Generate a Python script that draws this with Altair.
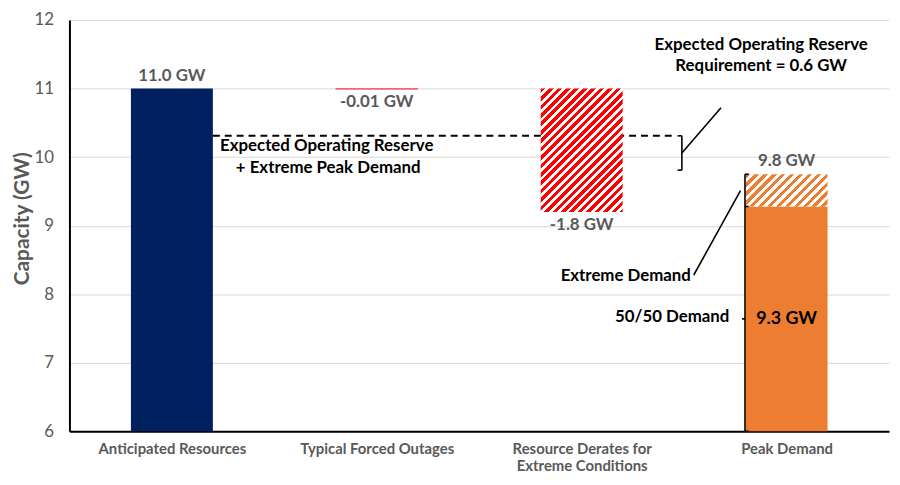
import altair as alt
import pandas as pd

# ---------------- data ----------------
categories = ["Anticipated Resources", "Typical Forced Outages",
              "Resource Derates for|Extreme Conditions", "Peak Demand"]
cat_pos = [0, 1, 2, 3]
bar_start = [6.0, 11.0, 11.0, 6.0]
bar_end = [11.0, 10.99, 9.2, 9.28]
bar_kind = ["navy", "thin", "red_hatch", "orange"]
extreme_start = [9.28]
extreme_end = [9.75]

value_labels_above = ["11.0 GW", "9.8 GW"]
value_above_pos = [0, 3]
value_above_y = [11.0, 9.75]
value_labels_below = ["-0.01 GW", "-1.8 GW"]
value_below_pos = [1, 2]
value_below_y = [10.99, 9.2]

ann_text = ["Expected Operating Reserve", "+ Extreme Peak Demand",
            "Expected Operating Reserve", "Requirement = 0.6 GW",
            "Extreme Demand", "50/50 Demand"]
ann_x = [0.235, 0.312, 2.876, 2.876, 2.533, 2.721]
ann_y = [10.16, 9.84, 11.64, 11.33, 8.26, 7.66]
ann_align = ["left", "left", "center", "center", "right", "right"]

inner_label = ["9.3 GW"]
inner_x = [3.0]
inner_y = [7.64]

dash_x = [0.2]; dash_x2 = [2.45]; dash_y = [10.31]; dash_y2 = [10.31]

seg_x = [2.489, 2.468, 2.468, 2.489, 2.797, 2.797, 2.797, 2.797, 2.782, 2.547]
seg_x2 = [2.489, 2.489, 2.489, 2.680, 2.797, 2.815, 2.815, 2.815, 2.797, 2.775]
seg_y = [10.31, 10.31, 9.81, 10.06, 9.75, 9.75, 9.28, 6.0, 7.64, 8.28]
seg_y2 = [9.81, 10.31, 9.81, 10.72, 6.0, 9.75, 9.28, 6.0, 7.64, 9.51]

# ---------------- layout ----------------
W, H = 827, 415
XMIN, XMAX = -0.5, 3.5
YMIN, YMAX = 6, 12
HALF = 0.2
FONT = "Lato"
GRAY = "#595959"

label_arr = "[" + ",".join("'" + c + "'" for c in categories) + "]"


def X(field, **kw):
    return alt.X(field, type="quantitative",
                 scale=alt.Scale(domain=[XMIN, XMAX], nice=False, zero=False),
                 axis=alt.Axis(values=cat_pos, labelExpr="split(" + label_arr + "[datum.value], '|')",
                               title=None, grid=False, ticks=False, domainColor="black", domainWidth=2,
                               labelFont=FONT, labelFontWeight="bold", labelColor=GRAY, labelFontSize=15,
                               labelPadding=10, labelLineHeight=18), **kw)


def Y(field, **kw):
    return alt.Y(field, type="quantitative",
                 scale=alt.Scale(domain=[YMIN, YMAX], nice=False, zero=False),
                 axis=alt.Axis(values=list(range(6, 13)), title="Capacity (GW)", grid=True,
                               gridColor="#d9d9d9", gridWidth=1, ticks=False, domainColor="black",
                               domainWidth=2, labelFont=FONT, labelFontSize=17, labelColor=GRAY,
                               labelPadding=16, titleFont=FONT, titleFontSize=21, titleFontWeight="bold",
                               titleColor=GRAY, titleAngle=270, titleAlign="center", titleBaseline="middle",
                               titleX=-47, titleY=200), **kw)


def X2(field):
    return alt.X2(field)


def Y2(field):
    return alt.Y2(field)


def hatch(color, w_px, h_px, period, frac):
    total = w_px + h_px
    s = total * w_px / (w_px ** 2 + h_px ** 2)
    n = int(total / period) + 1
    stops = []
    for k in range(n + 1):
        a = min(k * period / total, 1.0)
        b = min((k * period + frac * period) / total, 1.0)
        c = min((k + 1) * period / total, 1.0)
        stops += [{"offset": a, "color": color}, {"offset": b, "color": color},
                  {"offset": b, "color": "white"}, {"offset": c, "color": "white"}]
    return {"gradient": "linear", "x1": 0, "y1": 0, "x2": s, "y2": s * h_px / w_px, "stops": stops}


px_x = W / (XMAX - XMIN)
px_y = H / (YMAX - YMIN)
bar_w_px = 2 * HALF * px_x
red_h_px = (bar_start[2] - bar_end[2]) * px_y
or_h_px = (extreme_end[0] - extreme_start[0]) * px_y

bars = pd.DataFrame({"x0": [p - HALF for p in cat_pos], "x1": [p + HALF for p in cat_pos],
                     "y0": bar_start, "y1": bar_end, "kind": bar_kind})
ext = pd.DataFrame({"x0": [cat_pos[3] - HALF], "x1": [cat_pos[3] + HALF],
                    "y0": extreme_start, "y1": extreme_end})
above = pd.DataFrame({"x": value_above_pos, "y": value_above_y, "t": value_labels_above})
below = pd.DataFrame({"x": value_below_pos, "y": value_below_y, "t": value_labels_below})
ann = pd.DataFrame({"x": ann_x, "y": ann_y, "t": ann_text, "a": ann_align})
inner = pd.DataFrame({"x": inner_x, "y": inner_y, "t": inner_label})
dash = pd.DataFrame({"x": dash_x, "x2": dash_x2, "y": dash_y, "y2": dash_y2})
segs = pd.DataFrame({"x": seg_x, "x2": seg_x2, "y": seg_y, "y2": seg_y2})

dash_layer = alt.Chart(dash).mark_rule(color="black", strokeWidth=2, strokeDash=[7, 5]).encode(
    x=X("x"), x2=X2("x2"), y=Y("y"), y2=Y2("y2"))


def bar_layer(kind, **mk):
    return alt.Chart(bars).transform_filter(alt.datum.kind == kind).mark_rect(**mk).encode(
        x=X("x0"), x2=X2("x1"), y=Y("y0"), y2=Y2("y1"))


navy = bar_layer("navy", color="#002060")
orange = bar_layer("orange", color="#ED7D31")
thin = bar_layer("thin", color="#FF0000", stroke="#FF0000", strokeWidth=0.8, opacity=0.6)
red = bar_layer("red_hatch", color=hatch("#FF0000", bar_w_px, red_h_px, 8.5, 0.55))
ext_layer = alt.Chart(ext).mark_rect(color=hatch("#ED7D31", bar_w_px, or_h_px, 9.0, 0.5)).encode(
    x=X("x0"), x2=X2("x1"), y=Y("y0"), y2=Y2("y1"))

above_layer = alt.Chart(above).mark_text(font=FONT, fontWeight="bold", fontSize=17, color=GRAY,
                                         baseline="bottom", dy=-4).encode(x=X("x"), y=Y("y"), text="t:N")
below_layer = alt.Chart(below).mark_text(font=FONT, fontWeight="bold", fontSize=17, color=GRAY,
                                         baseline="top", dy=5).encode(x=X("x"), y=Y("y"), text="t:N")

seg_layer = alt.Chart(segs).mark_rule(color="black", strokeWidth=1.6).encode(
    x=X("x"), x2=X2("x2"), y=Y("y"), y2=Y2("y2"))


def ann_layer(al):
    return alt.Chart(ann).transform_filter(alt.datum.a == al).mark_text(
        font=FONT, fontWeight="bold", fontSize=17, color="black", align=al, baseline="middle").encode(
        x=X("x"), y=Y("y"), text="t:N")


inner_layer = alt.Chart(inner).mark_text(font=FONT, fontWeight="bold", fontSize=18, color="black",
                                         baseline="middle").encode(x=X("x"), y=Y("y"), text="t:N")

chart = alt.layer(dash_layer, navy, orange, thin, red, ext_layer, above_layer, below_layer,
                  seg_layer, ann_layer("left"), ann_layer("center"), ann_layer("right"),
                  inner_layer).properties(
    width=W, height=H,
    padding={"left": 62, "top": 10, "right": 3, "bottom": 44},
    autosize=alt.AutoSizeParams(type="none"),
).configure_view(stroke=None)

chart.save("out.html", embed_options={"renderer": "svg", "actions": False})
